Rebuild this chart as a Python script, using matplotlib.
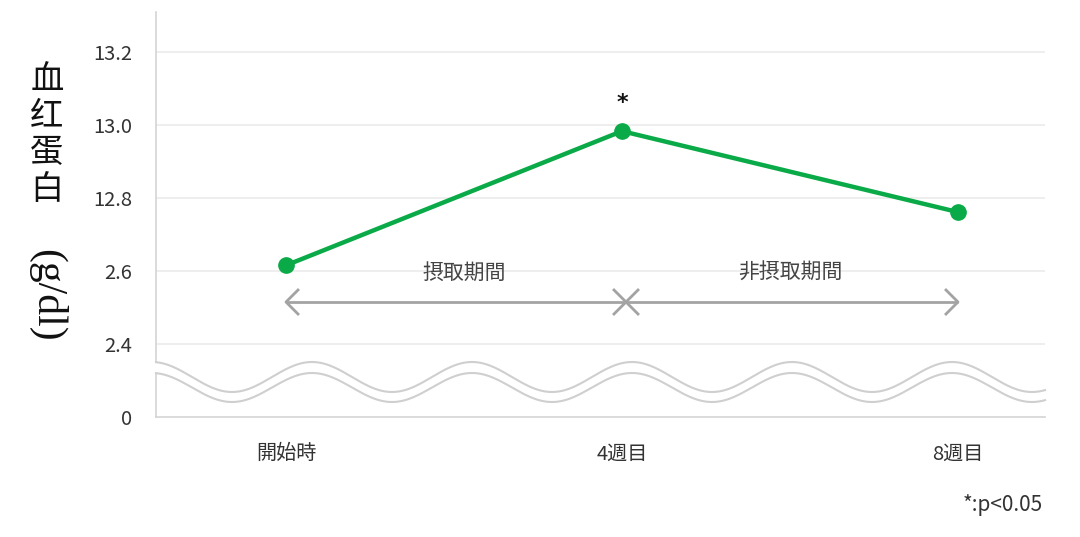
import numpy as np
import matplotlib
matplotlib.use("Agg")
import matplotlib.pyplot as plt

plt.rcParams['font.family'] = ['Noto Sans CJK JP', 'DejaVu Sans']

# ---- data ----
categories = ['開始時', '4週目', '8週目']
values = [12.616, 12.984, 12.762]
ytick_values = [12.2, 12.4, 12.6, 12.8, 13.0, 13.2]
ytick_labels = ['0', '2.4', '2.6', '12.8', '13.0', '13.2']
period_labels = ['摂取期間', '非摂取期間']
note = '*:p<0.05'

W, H = 1080, 537
fig = plt.figure(figsize=(W / 100, H / 100), dpi=100)
L, R, T, B = 156, 1045, 12, 417
ax = fig.add_axes([L / W, 1 - B / H, (R - L) / W, (B - T) / H])

x = np.arange(len(categories))
xpx = 336.0
ax.set_xlim(0 - (286 - L) / xpx, 2 + (R - 958) / xpx)
ypx = 364.6
ax.set_ylim(12.2, 12.2 + (B - T) / ypx)

for s in ['top', 'right']:
    ax.spines[s].set_visible(False)
for s in ['left', 'bottom']:
    ax.spines[s].set_color('#d4d4d4')
    ax.spines[s].set_linewidth(1.2)

ax.set_yticks(ytick_values)
ax.set_yticklabels(ytick_labels)
ax.set_xticks(x)
ax.set_xticklabels(categories)
ax.tick_params(axis='both', length=0, labelsize=14.5, colors='#333333')
ax.tick_params(axis='y', pad=17)
ax.tick_params(axis='x', pad=19)

for v in ytick_values[1:]:
    ax.axhline(v, color='#ebebeb', lw=1.2, zorder=1)

# wave break
xs_px = np.linspace(L, R, 600)
xs = ax.get_xlim()[0] + (xs_px - L) / xpx
phase = 2 * np.pi * (xs_px - 152) / 160.0
def ypix_to_val(p):
    return 12.2 + (B - p) / ypx
up_c, up_t = ypix_to_val(362), ypix_to_val(392)
lo_c, lo_t = ypix_to_val(373), ypix_to_val(402)
upper = (up_c + up_t) / 2 + (up_c - up_t) / 2 * np.cos(phase)
lower = (lo_c + lo_t) / 2 + (lo_c - lo_t) / 2 * np.cos(phase)
xs_f = np.concatenate([[xs[0] - 3 / xpx], xs])
ax.fill_between(xs_f, np.concatenate([[lower[0]], lower]), np.concatenate([[upper[0]], upper]),
                color='white', zorder=3, clip_on=False, lw=0)
ax.plot(xs, upper, color='#cfcfcf', lw=1.5, zorder=4, clip_on=False)
ax.plot(xs, lower, color='#cfcfcf', lw=1.5, zorder=4, clip_on=False)

# data line
ax.plot(x, values, color='#0BAA48', lw=3.2, marker='o', markersize=11, zorder=6)
ax.text(x[1], values[1] + 0.078, '*', ha='center', va='center', fontsize=16,
        color='#111111', fontweight='bold', family='DejaVu Sans')

# period arrows
ya = ypix_to_val(302)
gray = '#a3a3a3'
ax.plot([x[0], x[2]], [ya, ya], color=gray, lw=2, zorder=5, solid_capstyle='butt')
ch = 12 / xpx
cy = 12 / ypx
ax.plot([x[0] + ch, x[0], x[0] + ch], [ya + cy, ya, ya - cy], color=gray, lw=2, zorder=5)
ax.plot([x[2] - ch, x[2], x[2] - ch], [ya + cy, ya, ya - cy], color=gray, lw=2, zorder=5)
xm = x[1] + 4 / xpx
ax.plot([xm - ch, xm + ch], [ya + cy, ya - cy], color=gray, lw=2, zorder=5)
ax.plot([xm - ch, xm + ch], [ya - cy, ya + cy], color=gray, lw=2, zorder=5)

yl = ypix_to_val(273)
ax.text((x[0] + x[1]) / 2 + 10 / xpx, yl, period_labels[0], ha='center', va='center',
        fontsize=15, color='#444444', zorder=7)
ax.text((x[1] + x[2]) / 2, yl, period_labels[1], ha='center', va='center',
        fontsize=15, color='#444444', zorder=7)

# y label
for i, ch_ in enumerate('血红蛋白'):
    fig.text(47 / W, 1 - (79 + i * 36.7) / H, ch_, ha='center', va='center',
             fontsize=24, color='#111111', family=['Noto Sans CJK SC', 'DejaVu Sans'])
fig.text(47 / W, 1 - 295 / H, '(g/dl)', ha='center', va='center', rotation=-90,
         fontsize=30, color='#111111', family='Liberation Serif')

fig.text(1043 / W, 1 - 505 / H, note, ha='right', va='center', fontsize=15,
         color='#333333')

fig.savefig('out.png', dpi=100)
